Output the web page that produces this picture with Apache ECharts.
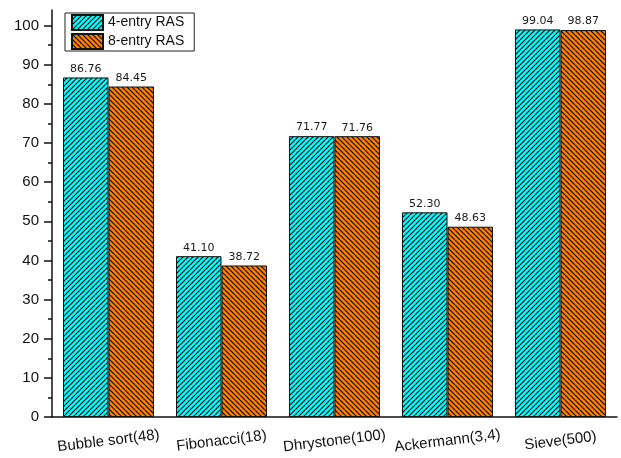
<!DOCTYPE html>
<html>
<head>
<meta charset="utf-8">
<script src="https://cdn.jsdelivr.net/npm/echarts@6/dist/echarts.min.js"></script>
<style>
  html, body { margin: 0; padding: 0; background: #fff; }
  #chart { width: 621px; height: 458px; }
</style>
</head>
<body>
<div id="chart"></div>
<script>
// Benchmarks and hit rates (%) for the two return-address-stack sizes
const categories = ['Bubble sort(48)', 'Fibonacci(18)', 'Dhrystone(100)', 'Ackermann(3,4)', 'Sieve(500)'];
const ras4 = [86.76, 41.10, 71.77, 52.30, 99.04];
const ras8 = [84.45, 38.72, 71.76, 48.63, 98.87];
const seriesNames = ['4-entry RAS', '8-entry RAS'];
const yMajorTicks = [0, 10, 20, 30, 40, 50, 60, 70, 80, 90, 100];
const yMinorTicks = [5, 15, 25, 35, 45, 55, 65, 75, 85, 95];

// Hatched fill: a small tile with one diagonal stroke, repeated.
function hatch(bg, forward) {
  const s = 5;
  const c = document.createElement('canvas');
  c.width = s; c.height = s;
  const g = c.getContext('2d');
  g.fillStyle = bg;
  g.fillRect(0, 0, s, s);
  g.strokeStyle = '#000';
  g.lineWidth = 1.1;
  g.beginPath();
  for (let k = -1; k <= 1; k++) {
    if (forward) { g.moveTo(k * s, s); g.lineTo(k * s + s, 0); }
    else { g.moveTo(k * s, 0); g.lineTo(k * s + s, s); }
  }
  g.stroke();
  return { image: c, repeat: 'repeat' };
}

const fill4 = hatch('#00ffff', true);
const fill8 = hatch('#ff8000', false);
const YMAX = 104;

const valueLabel = {
  show: true,
  position: 'top',
  distance: 3,
  fontFamily: 'DejaVu Sans',
  fontSize: 11,
  color: '#1a1a1a',
  formatter: p => p.value.toFixed(2)
};

const chart = echarts.init(document.getElementById('chart'), null, { renderer: 'canvas' });
chart.setOption({
  animation: false,
  backgroundColor: '#fff',
  grid: { left: 52, right: 4, top: 10, bottom: 41, containLabel: false },
  legend: {
    data: seriesNames,
    icon: 'rect',
    orient: 'vertical',
    left: 65,
    top: 13,
    padding: [1, 10, 1, 6],
    itemGap: 2,
    itemWidth: 31,
    itemHeight: 15,
    borderColor: '#222',
    borderWidth: 1,
    textStyle: { fontFamily: 'Liberation Sans', fontSize: 14, color: '#111' }
  },
  xAxis: [
    {
      type: 'category',
      data: categories,
      axisLine: { lineStyle: { color: '#111', width: 1.5 } },
      axisTick: { alignWithLabel: true, length: 6, lineStyle: { color: '#111', width: 1.5 } },
      axisLabel: {
        interval: 0,
        rotate: 7,
        align: 'center',
        verticalAlign: 'middle',
        margin: 24,
        fontFamily: 'Liberation Sans',
        fontSize: 15,
        color: '#111'
      }
    },
    {
      type: 'category',
      data: categories,
      position: 'bottom',
      axisLine: { show: false },
      axisTick: { inside: true, length: 3, lineStyle: { color: '#888', width: 1 } },
      axisLabel: { show: false }
    }
  ],
  yAxis: [
    {
      type: 'value',
      min: 0,
      max: YMAX,
      interval: 10,
      splitLine: { show: false },
      axisLine: { show: true, lineStyle: { color: '#111', width: 1.5 } },
      axisTick: { show: true, length: 8, customValues: yMajorTicks, lineStyle: { color: '#111', width: 1.5 } },
      axisLabel: {
        customValues: yMajorTicks,
        margin: 13,
        fontFamily: 'Liberation Sans',
        fontSize: 15,
        color: '#111'
      }
    },
    {
      type: 'value',
      min: 0,
      max: YMAX,
      position: 'left',
      splitLine: { show: false },
      axisLine: { show: false },
      axisTick: { show: true, length: 4, customValues: yMinorTicks, lineStyle: { color: '#111', width: 1.5 } },
      axisLabel: { show: false }
    }
  ],
  series: [
    {
      name: seriesNames[0],
      type: 'bar',
      data: ras4,
      barGap: '0%',
      barCategoryGap: '19.5%',
      itemStyle: { color: fill4, borderColor: '#111', borderWidth: 1 },
      label: valueLabel
    },
    {
      name: seriesNames[1],
      type: 'bar',
      data: ras8,
      barGap: '0%',
      barCategoryGap: '19.5%',
      itemStyle: { color: fill8, borderColor: '#111', borderWidth: 1 },
      label: valueLabel
    }
  ]
});
</script>
</body>
</html>
